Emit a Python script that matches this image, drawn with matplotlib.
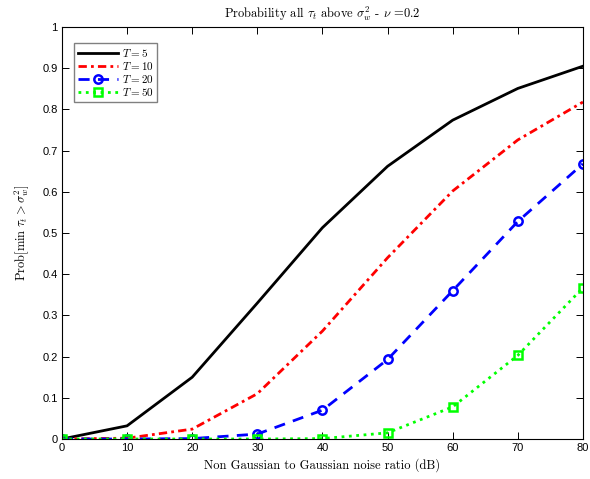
import numpy as np
import matplotlib
matplotlib.use('Agg')
import matplotlib.pyplot as plt

# Data
snr_db = [0, 10, 20, 30, 40, 50, 60, 70, 80]
p_T5 = [0.0, 0.032, 0.150, 0.330, 0.513, 0.662, 0.774, 0.851, 0.905]
p_T10 = [0.0, 0.002, 0.024, 0.110, 0.262, 0.440, 0.602, 0.726, 0.818]
p_T20 = [0.0, 0.0, 0.001, 0.012, 0.070, 0.193, 0.360, 0.528, 0.668]
p_T50 = [0.0, 0.0, 0.0, 0.0, 0.001, 0.015, 0.078, 0.203, 0.367]

matplotlib.rcParams['mathtext.fontset'] = 'cm'
matplotlib.rcParams['font.family'] = 'Liberation Sans'
SERIF = 'cmr10'

fig = plt.figure(figsize=(5.9, 4.79), dpi=100)
ax = fig.add_axes([0.105, 0.0835, 0.883, 0.860])

LW = 2.0
ax.plot(snr_db, p_T5, '-', color='k', lw=LW, label=r'$T=5$')
ax.plot(snr_db, p_T10, color=(1, 0, 0), lw=LW, dashes=(3, 1.5, 1, 1.5),
        label=r'$T=10$')
ax.plot(snr_db, p_T20, color=(0, 0, 1), lw=LW, dashes=(4, 3), marker='o',
        ms=6, mfc='none', mew=1.8, label=r'$T=20$')
ax.plot(snr_db, p_T50, ':', color=(0, 1, 0), lw=LW, marker='s', ms=6,
        mfc='none', mew=1.8, label=r'$T=50$')

ax.set_xlim(0, 80)
ax.set_ylim(0, 1)
ax.set_xticks(np.arange(0, 81, 10))
ax.set_yticks(np.arange(0, 1.01, 0.1))
ax.set_yticklabels(['0'] + ['%.1f' % v for v in np.arange(0.1, 1.0, 0.1)] + ['1'])
ax.tick_params(direction='in', top=True, right=True, length=5, width=0.7,
               labelsize=8, pad=3)
for s in ax.spines.values():
    s.set_linewidth(0.8)

ax.set_title(r'Probability all $\tau_t$ above $\sigma_w^2$ - $\nu$ =0.2',
             fontsize=9, family=SERIF, pad=7)
ax.set_xlabel('Non Gaussian to Gaussian noise ratio (dB)', fontsize=9,
              family=SERIF, labelpad=4)
ax.set_ylabel(r'Prob$[\min\ \tau_t > \sigma_w^2]$', fontsize=9, family=SERIF,
              labelpad=8)

leg = ax.legend(loc='upper left', bbox_to_anchor=(0.013, 0.975), fontsize=8,
                handlelength=3.6, borderpad=0.35, labelspacing=0.1,
                handletextpad=0.3, fancybox=False, framealpha=1)
leg.get_frame().set_edgecolor('0.5')
leg.get_frame().set_linewidth(1.0)

fig.savefig('out.png', dpi=100)
